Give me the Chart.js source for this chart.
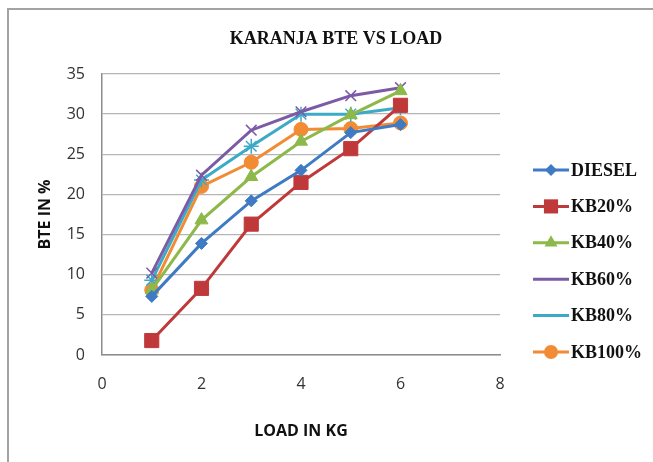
<!DOCTYPE html>
<html>
<head>
<meta charset="utf-8">
<script src="https://cdn.jsdelivr.net/npm/chart.js@4"></script>
<style>
  html, body { margin: 0; padding: 0; background: #ffffff; }
  #wrap { position: relative; width: 653px; height: 462px; }
</style>
</head>
<body>
<div id="wrap"><canvas id="bte-chart"></canvas></div>
<script>
/*global Chart*/

const chartTitle = "KARANJA BTE VS LOAD";
const loads = [1, 2, 3, 4, 5, 6];
const seriesNames = ["DIESEL", "KB20%", "KB40%", "KB60%", "KB80%", "KB100%"];
const diesel = [7.3, 13.9, 19.2, 23.0, 27.7, 28.7];
const kb20 = [1.8, 8.3, 16.3, 21.5, 25.7, 31.1];
const kb40 = [8.1, 16.8, 22.2, 26.6, 29.9, 32.9];
const kb60 = [10.2, 22.4, 28.0, 30.3, 32.3, 33.3];
const kb80 = [9.3, 21.8, 26.0, 30.0, 30.0, 30.8];
const kb100 = [8.1, 21.0, 24.0, 28.1, 28.2, 28.9];
const xTicks = [0, 2, 4, 6, 8];
const yTicks = [0, 5, 10, 15, 20, 25, 30, 35];

const seriesValues = [diesel, kb20, kb40, kb60, kb80, kb100];
const colours = ["#3e7bc4", "#c0393a", "#8db84a", "#7b5aa6", "#3caac6", "#f28c34"];
const markers = ["rectRot", "rect", "triangle", "crossRot", "star", "circle"];
const markerSizes = [6, 10, 7.5, 7.5, 7.5, 7];

// frame round the whole chart + title centred on the page (Excel puts it there)
const frame = {
  id: "frame",
  beforeDraw(chart) {
    const ctx = chart.ctx;
    ctx.save();
    ctx.fillStyle = "#ffffff";
    ctx.fillRect(0, 0, chart.width, chart.height);
    ctx.strokeStyle = "#a3a3a3";
    ctx.lineWidth = 2;
    ctx.strokeRect(8, 9, 700, 500);
    ctx.fillStyle = "#111111";
    ctx.font = "bold 18px 'Liberation Serif', 'Times New Roman', serif";
    ctx.textAlign = "center";
    ctx.textBaseline = "middle";
    ctx.fillText(chartTitle, 336, 39);
    ctx.restore();
  },
};

// Excel-style legend: short line with the marker in the middle
const sideLegend = {
  id: "sideLegend",
  afterDraw(chart) {
    const ctx = chart.ctx;
    ctx.save();
    chart.data.datasets.forEach((ds, i) => {
      const y = 170 + i * 36.4;
      ctx.strokeStyle = ds.borderColor;
      ctx.lineWidth = 3;
      ctx.beginPath();
      ctx.moveTo(533, y);
      ctx.lineTo(569, y);
      ctx.stroke();
      ctx.fillStyle = ds.pointBackgroundColor;
      ctx.strokeStyle = ds.pointBorderColor;
      ctx.lineWidth = ds.pointBorderWidth;
      Chart.helpers.drawPoint(ctx, { pointStyle: ds.pointStyle, radius: ds.pointRadius, rotation: 0 }, 551, y);
      ctx.fillStyle = "#111111";
      ctx.font = "bold 18px 'Liberation Serif', 'Times New Roman', serif";
      ctx.textBaseline = "middle";
      ctx.textAlign = "left";
      ctx.fillText(ds.label, 571, y + 1);
    });
    ctx.restore();
  },
};

const datasets = seriesNames.map((name, i) => ({
  label: name,
  data: loads.map((x, j) => ({ x: x, y: seriesValues[i][j] })),
  borderColor: colours[i],
  backgroundColor: colours[i],
  borderWidth: 3,
  pointStyle: markers[i],
  pointRadius: markerSizes[i],
  pointBackgroundColor: colours[i],
  pointBorderColor: colours[i],
  pointBorderWidth: markers[i] === "crossRot" || markers[i] === "star" ? 1.5 : 1,
  tension: 0,
}));

const ctx = document.getElementById("bte-chart").getContext("2d");

new Chart(ctx, {
  type: "line",
  plugins: [frame, sideLegend],
  data: { datasets: datasets },
  options: {
    responsive: true,
    maintainAspectRatio: false,
    animation: false,
    layout: {
      padding: { left: 32, right: 153, top: 74, bottom: 17 },
    },
    scales: {
      x: {
        type: "linear",
        min: 0,
        max: 8,
        afterBuildTicks: (scale) => {
          scale.ticks = xTicks.map((v) => ({ value: v }));
        },
        afterFit: (scale) => {
          scale.height = 90;
        },
        grid: { display: false, drawTicks: false },
        border: { display: true, color: "#8c8c8c", width: 1.5 },
        ticks: {
          color: "#333333",
          padding: 20,
          font: { family: "'Open Sans', sans-serif", size: 16 },
        },
        title: {
          display: true,
          text: "LOAD IN KG",
          color: "#111111",
          font: { family: "'Open Sans', sans-serif", size: 16, weight: "bold" },
          padding: { top: 4, bottom: 4 },
        },
      },
      y: {
        min: 0,
        max: 35,
        afterBuildTicks: (scale) => {
          scale.ticks = yTicks.map((v) => ({ value: v }));
        },
        afterFit: (scale) => {
          scale.width = 70;
        },
        grid: { color: "#b5b5b5", lineWidth: 1.3, drawTicks: false },
        border: { display: true, color: "#8c8c8c", width: 1.5 },
        ticks: {
          color: "#333333",
          padding: 17,
          font: { family: "'Open Sans', sans-serif", size: 16 },
        },
        title: {
          display: true,
          text: "BTE IN %",
          color: "#111111",
          font: { family: "'Open Sans', sans-serif", size: 16, weight: "bold" },
          padding: { top: 4, bottom: 4 },
        },
      },
    },
    plugins: {
      legend: { display: false },
      tooltip: { enabled: false },
      title: { display: false },
    },
  },
});
</script>
</body>
</html>
